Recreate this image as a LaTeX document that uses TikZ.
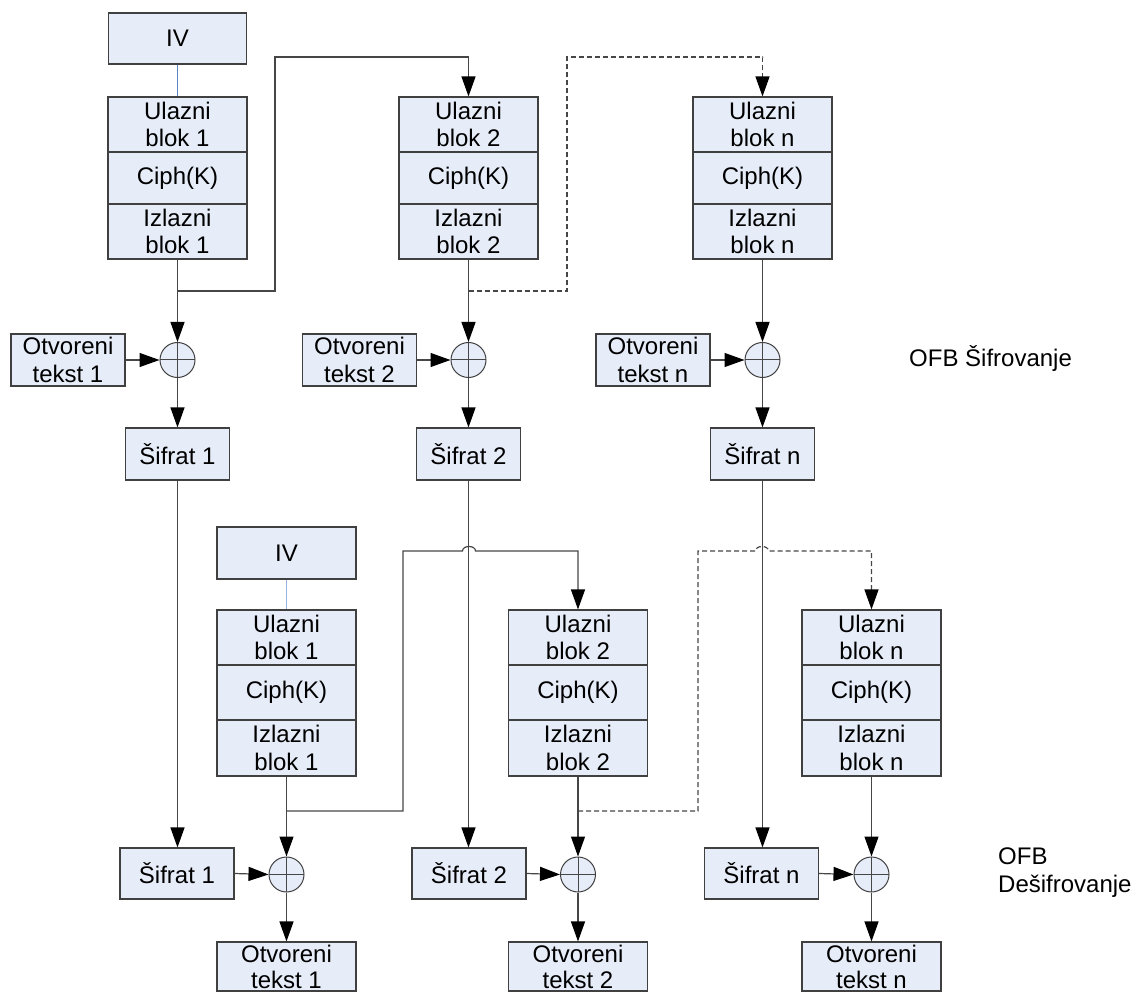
\documentclass[tikz,border=0pt]{standalone}
\usepackage{fontspec}
\setmainfont{Liberation Sans}
\usetikzlibrary{arrows.meta}
\definecolor{boxfill}{RGB}{230,236,248}
\definecolor{boxline}{RGB}{64,64,64}
\definecolor{linecol}{RGB}{70,70,70}
\definecolor{ivblue}{RGB}{90,135,195}
\definecolor{ivblue2}{RGB}{150,180,225}
\tikzset{
  box/.style={draw=boxline, fill=boxfill, line width=1.1pt, inner sep=0pt, align=center,
              minimum width=#1},
  box/.default=139pt,
  xorc/.style={circle, draw=boxline, fill=boxfill, line width=1pt, inner sep=0pt, minimum size=35pt,
               path picture={\draw[linecol, line width=1pt]
                 (path picture bounding box.north) -- (path picture bounding box.south)
                 (path picture bounding box.west) -- (path picture bounding box.east);}},
  conn/.style={draw=linecol, line width=1.2pt},
  arr/.style={conn, -{Triangle[length=20pt,width=14pt,color=black]}},
  dashd/.style={dash pattern=on 5pt off 3pt},
  lbl/.style={inner sep=0pt, align=left}
}
\begin{document}
\begin{tikzpicture}[x=1pt,y=-1pt,font=\fontsize{24}{27.5}\selectfont]
\useasboundingbox (0,0) rectangle (1136,992);

% ---------------- top: encryption ----------------
\node[box=138pt, minimum height=51pt] (tiv) at (177.5,38.5) {IV};
\foreach \n/\x/\k in {1/177.5/1, 2/468.5/2, n/762.5/n}{
  \node[box, minimum height=55pt] (tu\n) at (\x,124.5) {Ulazni\\blok \k};
  \node[box, minimum height=52pt] (tc\n) at (\x,178) {Ciph(K)};
  \node[box, minimum height=55pt] (tz\n) at (\x,231.5) {Izlazni\\blok \k};
  \node[xorc] (tx\n) at (\x,360) {};
  \node[box=104pt, minimum height=52pt] (ts\n) at (\x,454) {Šifrat \k};
}
\node[box=114pt, minimum height=52pt] (to1) at (68,360) {Otvoreni\\tekst 1};
\node[box=114pt, minimum height=52pt] (to2) at (359.5,360) {Otvoreni\\tekst 2};
\node[box=114pt, minimum height=52pt] (ton) at (653,360) {Otvoreni\\tekst n};

\draw[ivblue, line width=1pt] (tiv.south) -- (tu1.north);

\coordinate (tb1) at (177.5,291);
\coordinate (tk1) at (275,57);
\coordinate (tb2) at (468.5,291);
\coordinate (tk2) at (567,57);

\foreach \n in {1,2,n}{
  \draw[arr] (tz\n.south) -- (tx\n.north);
  \draw[arr] (to\n.east) -- (tx\n.west);
  \draw[arr] (tx\n.south) -- (ts\n.north);
}
\draw[arr] (tb1) -| (tk1) -| (tu2.north);
\draw[arr, dashd] (tb2) -| (tk2) -| (tun.north);

% ---------------- bottom: decryption ----------------
\node[box, minimum height=52pt] (biv) at (286.5,553) {IV};
\foreach \n/\x/\sx/\k in {1/286.5/177/1, 2/578/469/2, n/871.5/761.5/n}{
  \node[box, minimum height=55pt] (bu\n) at (\x,637.5) {Ulazni\\blok \k};
  \node[box, minimum height=55pt] (bc\n) at (\x,692.5) {Ciph(K)};
  \node[box, minimum height=56pt] (bz\n) at (\x,748) {Izlazni\\blok \k};
  \node[xorc] (bx\n) at (\x,874.5) {};
  \node[box=114pt, minimum height=51pt] (bs\n) at (\sx,873.5) {Šifrat \k};
  \node[box, minimum height=49pt, font=\fontsize{24}{26}\selectfont] (bo\n) at (\x,966.5) {Otvoreni\\tekst \k};
}

\draw[ivblue2, line width=1pt] (biv.south) -- (bu1.north);

\foreach \n in {1,2,n}{
  \draw[arr] (ts\n.south) -- (ts\n.south |- bs\n.north);
  \draw[arr] (bz\n.south) -- (bx\n.north);
  \draw[arr] (bs\n.east) -- (bx\n.west);
  \draw[arr] (bx\n.south) -- (bo\n.north);
}

\coordinate (bb1) at (286.5,811);
\coordinate (bk1) at (403,551);
\coordinate (bj1a) at (462.5,551);
\coordinate (bj1b) at (475.5,551);
\coordinate (bb2) at (578,811);
\coordinate (bk2) at (698,551);
\coordinate (bj2a) at (755.5,551);
\coordinate (bj2b) at (768.5,551);

\draw[arr] (bb1) -| (bk1) -- (bj1a) .. controls (462.5,545) and (475.5,545) .. (bj1b) -| (bu2.north);
\draw[arr, dashd] (bb2) -| (bk2) -- (bj2a) .. controls (755.5,545) and (768.5,545) .. (bj2b) -| (bun.north);

% ---------------- labels ----------------
\node[lbl, anchor=base west] (lenc) at (909,367) {OFB Šifrovanje};
\node[lbl, anchor=north west] (ldec) at (998,848) {OFB\\Dešifrovanje};
\end{tikzpicture}
\end{document}
